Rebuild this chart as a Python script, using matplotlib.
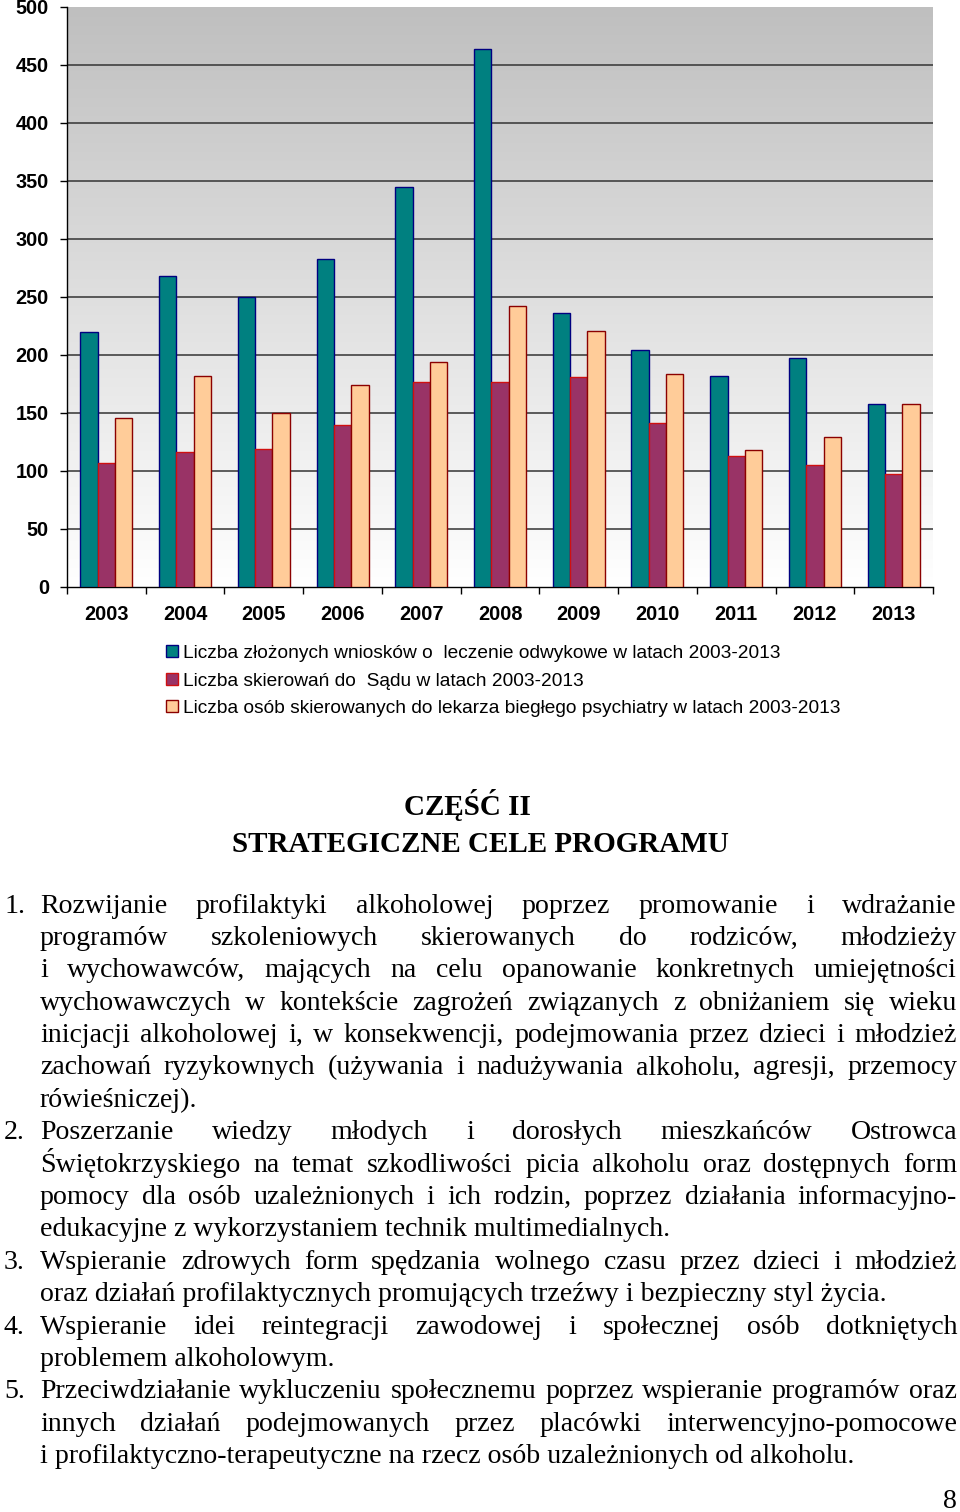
import numpy as np
import matplotlib
matplotlib.use("Agg")
import matplotlib.pyplot as plt
from matplotlib.font_manager import FontProperties

# --- data ---
years = ["2003", "2004", "2005", "2006", "2007", "2008", "2009", "2010", "2011", "2012", "2013"]
wnioski = [220, 268, 250, 283, 345, 464, 236, 204, 182, 197, 158]
skierowania_sad = [107, 116, 119, 140, 177, 177, 181, 141, 113, 105, 97]
skierowania_psych = [146, 182, 150, 174, 194, 242, 221, 184, 118, 129, 158]
y_ticks = [0, 50, 100, 150, 200, 250, 300, 350, 400, 450, 500]
series_labels = [
    "Liczba złożonych wniosków o  leczenie odwykowe w latach 2003-2013",
    "Liczba skierowań do  Sądu w latach 2003-2013",
    "Liczba osób skierowanych do lekarza biegłego psychiatry w latach 2003-2013",
]

title_lines = ["CZĘŚĆ II", "STRATEGICZNE CELE PROGRAMU"]

# (number, list of (line, justified))
goals = [
    ("1.", [
        ("Rozwijanie profilaktyki alkoholowej poprzez promowanie i wdrażanie", True),
        ("programów szkoleniowych skierowanych do rodziców, młodzieży", True),
        ("i wychowawców, mających na celu opanowanie konkretnych umiejętności", True),
        ("wychowawczych w kontekście zagrożeń związanych z obniżaniem się wieku", True),
        ("inicjacji alkoholowej i, w konsekwencji, podejmowania przez dzieci i młodzież", True),
        ("zachowań ryzykownych (używania i nadużywania alkoholu, agresji, przemocy", True),
        ("rówieśniczej).", False),
    ]),
    ("2.", [
        ("Poszerzanie wiedzy młodych i dorosłych mieszkańców Ostrowca", True),
        ("Świętokrzyskiego na temat szkodliwości picia alkoholu oraz dostępnych form", True),
        ("pomocy dla osób uzależnionych i ich rodzin, poprzez działania informacyjno-", True),
        ("edukacyjne z wykorzystaniem technik multimedialnych.", False),
    ]),
    ("3.", [
        ("Wspieranie zdrowych form spędzania wolnego czasu przez dzieci i młodzież", True),
        ("oraz działań profilaktycznych promujących trzeźwy i bezpieczny styl życia.", False),
    ]),
    ("4.", [
        ("Wspieranie idei reintegracji zawodowej i społecznej osób dotkniętych", True),
        ("problemem alkoholowym.", False),
    ]),
    ("5.", [
        ("Przeciwdziałanie wykluczeniu społecznemu poprzez wspieranie programów oraz", True),
        ("innych działań podejmowanych przez placówki interwencyjno-pomocowe", True),
        ("i profilaktyczno-terapeutyczne na rzecz osób uzależnionych od alkoholu.", False),
    ]),
]

W, H = 960, 1512
fig = plt.figure(figsize=(W / 100, H / 100), dpi=100)
renderer = fig.canvas.get_renderer()


def fx(x):
    return x / W


def fy(y):
    return 1 - y / H


def text_width(s, prop):
    t = fig.text(0, 0, s, fontproperties=prop)
    w = t.get_window_extent(renderer).width
    t.remove()
    return w


def fit_size(s, family, weight, target):
    base = FontProperties(family=family, weight=weight, size=10)
    return 10 * target / text_width(s, base)


# --- chart ---
ax = fig.add_axes([fx(67), fy(587), fx(933) - fx(67), fy(7) - fy(587)])

# gray-to-white gradient background
grad = np.linspace(0, 1, 256).reshape(-1, 1)
ax.imshow(grad, cmap=matplotlib.colors.LinearSegmentedColormap.from_list("bg", ["#bfbfbf", "#ffffff"]),
          extent=(-0.5, 10.5, 0, 500), aspect="auto", zorder=0, origin="upper")

x = np.arange(len(years))
w = 0.22
ax.bar(x - w, wnioski, w, color="#008080", edgecolor="#000080", linewidth=1.0, zorder=3, label=series_labels[0])
ax.bar(x, skierowania_sad, w, color="#993366", edgecolor="#d01010", linewidth=1.0, zorder=3, label=series_labels[1])
ax.bar(x + w, skierowania_psych, w, color="#ffcc99", edgecolor="#8b0000", linewidth=1.0, zorder=3, label=series_labels[2])

ax.set_xlim(-0.5, 10.5)
ax.set_ylim(0, 500)
ax.set_yticks(y_ticks)
for v in y_ticks[1:-1]:
    ax.axhline(v, color="#333333", linewidth=1.1, zorder=1)

ax.set_xticks(np.arange(-0.5, 11, 1))
ax.set_xticklabels([])
ax.set_xticks(x, minor=True)
ax.set_xticklabels(years, minor=True)
ax.tick_params(axis="x", which="major", length=5, width=1, direction="out", color="black")
ax.tick_params(axis="x", which="minor", length=0, pad=13)
ax.tick_params(axis="y", length=5, width=1, direction="out", pad=8)

tick_font = FontProperties(family="Liberation Sans", weight="bold", size=14.3)
for lab in ax.get_yticklabels() + ax.get_xticklabels(minor=True):
    lab.set_fontproperties(tick_font)

for s in ["top", "right"]:
    ax.spines[s].set_visible(False)
ax.spines["left"].set_linewidth(1.0)
ax.spines["bottom"].set_linewidth(1.0)

# legend
leg_size = fit_size(series_labels[2], "Liberation Sans", "normal", 662)
fig.legend(loc="upper left", bbox_to_anchor=(fx(166), fy(645)), frameon=False,
           prop=FontProperties(family="Liberation Sans", size=leg_size),
           handlelength=0.6, handleheight=0.6, handletextpad=0.3, labelspacing=0.55,
           borderpad=0, borderaxespad=0)

# --- text below ---
title_size = fit_size(title_lines[1], "Liberation Serif", "bold", 496)
title_prop = FontProperties(family="Liberation Serif", weight="bold", size=title_size)
fig.text(fx(467), fy(815), title_lines[0], fontproperties=title_prop, ha="center", va="baseline")
fig.text(fx(480), fy(852), title_lines[1], fontproperties=title_prop, ha="center", va="baseline")

body_size = fit_size("oraz działań profilaktycznych promujących trzeźwy i bezpieczny styl życia.",
                     "Liberation Serif", "normal", 848)
body_prop = FontProperties(family="Liberation Serif", size=body_size)

x_left, x_right = 40, 957
y0, dy = 912.5, 32.4
row = 0
for num, lines in goals:
    fig.text(fx(4), fy(y0 + row * dy), num, fontproperties=body_prop, va="baseline")
    for line, justify in lines:
        yb = fy(y0 + row * dy)
        if not justify:
            fig.text(fx(x_left), yb, line, fontproperties=body_prop, va="baseline")
        else:
            words = line.split(" ")
            widths = [text_width(wd, body_prop) for wd in words]
            gap = (x_right - x_left - sum(widths)) / (len(words) - 1)
            xp = x_left
            for wd, ww in zip(words, widths):
                fig.text(fx(xp), yb, wd, fontproperties=body_prop, va="baseline")
                xp += ww + gap
        row += 1

fig.text(fx(957), fy(1508), "8", fontproperties=body_prop, ha="right", va="baseline")

fig.savefig("out.png", dpi=100)
